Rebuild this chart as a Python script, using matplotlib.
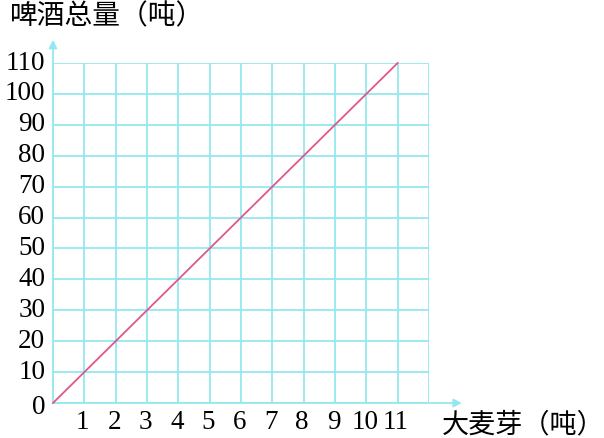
import numpy as np
import matplotlib
matplotlib.use("Agg")
import matplotlib.pyplot as plt

# data
malt = [0, 1, 2, 3, 4, 5, 6, 7, 8, 9, 10, 11]
beer = [0, 10, 20, 30, 40, 50, 60, 70, 80, 90, 100, 110]
x_ticks = [1, 2, 3, 4, 5, 6, 7, 8, 9, 10, 11]
y_ticks = [0, 10, 20, 30, 40, 50, 60, 70, 80, 90, 100, 110]
x_label = "大麦芽（吨）"
y_label = "啤酒总量（吨）"

grid_c = "#93e8ef"
line_c = "#e0578c"
cjk = ["Noto Sans CJK SC", "DejaVu Sans"]
num_font = "Liberation Serif"

fig = plt.figure(figsize=(6.04, 4.38), dpi=100)
ax = fig.add_axes([53 / 604, 35 / 438, 376 / 604, 340 / 438])
ax.set_xlim(0, 12)
ax.set_ylim(0, 110)

# grid of the squared paper
for gx in range(0, 13):
    ax.axvline(gx, color=grid_c, lw=1.3, zorder=1)
for gy in y_ticks:
    ax.axhline(gy, color=grid_c, lw=1.3, zorder=1)

for s in ax.spines.values():
    s.set_visible(False)
ax.set_xticks([])
ax.set_yticks([])

# axis arrows
ax.annotate("", xy=(13.05, 0), xytext=(0, 0), annotation_clip=False,
            arrowprops=dict(arrowstyle="-|>", color=grid_c, lw=1.3,
                            mutation_scale=12, shrinkA=0, shrinkB=0))
ax.annotate("", xy=(0, 117.5), xytext=(0, 0), annotation_clip=False,
            arrowprops=dict(arrowstyle="-|>", color=grid_c, lw=1.3,
                            mutation_scale=12, shrinkA=0, shrinkB=0))

ax.plot(malt, beer, color=line_c, lw=1.3, zorder=3, clip_on=False)

for t in x_ticks:
    ax.text(t - 0.05, -6.3, str(t), ha="center", va="center",
            fontsize=19.5, family=num_font, clip_on=False)
for t in y_ticks:
    off = -1.5 if t == 0 else 0
    ax.text(-0.25, t + off, str(t), ha="right", va="center",
            fontsize=19.5, family=num_font, clip_on=False)

fig.text(442 / 604, 1 - 425 / 438, x_label, ha="left", va="center",
         fontsize=19.5, family=cjk)
fig.text(10 / 604, 1 - 16 / 438, y_label, ha="left", va="center",
         fontsize=20, family=cjk)

fig.savefig("out.png", dpi=100)
